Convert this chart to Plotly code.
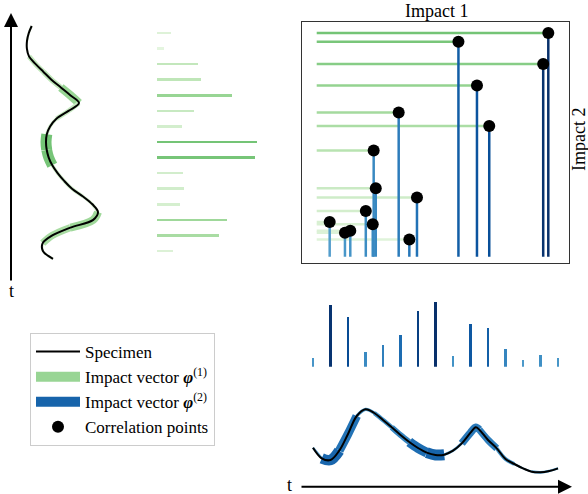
import plotly.graph_objects as go
import plotly.colors as pc

W, H = 588, 494

# ---- data ----
sample_idx = list(range(15))
phi1 = [0.14, 0.07, 0.41, 0.44, 0.75, 0.37, 0.25, 1.0, 0.98, 0.26, 0.27, 0.23, 0.70, 0.62, 0.16]
phi2 = [0.135, 0.965, 0.77, 0.23, 0.33, 0.49, 0.87, 1.0, 0.17, 0.66, 0.60, 0.28, 0.10, 0.18, 0.13]

# specimen 1 (vertical, time runs upward; index 0 at top)
spec1_t = [-0.45, 0, 0.5, 1, 1.5, 2, 2.5, 3, 3.5, 4, 4.5, 5, 5.5, 6, 6.5, 7, 7.5,
           8, 8.5, 9, 9.5, 10, 10.5, 11, 11.5, 12, 12.5, 13, 13.5, 14, 14.5]
spec1_s = [1.17, 0.88, 0.70, 0.69, 0.90, 1.57, 2.35, 3.14, 4.09, 5.03, 5.90, 4.85, 3.64,
           3.01, 2.68, 2.60, 2.67, 2.87, 3.23, 3.76, 4.42, 5.20, 6.30, 7.24, 7.80, 7.32,
           5.04, 3.23, 2.27, 2.29, 3.30]

# specimen 2 (horizontal)
spec2_t = [0, 0.5, 1, 1.5, 2, 2.5, 3, 3.5, 4, 4.5, 5, 5.5, 6, 6.5, 7, 7.5, 8, 8.5, 9,
           9.3, 9.5, 10, 10.5, 11, 11.5, 12, 12.5, 13, 13.5, 14]
spec2_s = [0.87, 0.55, 0.50, 0.78, 1.28, 1.82, 2.02, 1.91, 1.70, 1.48, 1.25, 1.04, 0.86,
           0.72, 0.65, 0.66, 0.78, 1.00, 1.32, 1.48, 1.41, 1.10, 0.85, 0.53, 0.38, 0.25,
           0.15, 0.13, 0.17, 0.25]

# correlation points (Impact 1 vs Impact 2 panel)
corr_x = [1.0, 0.612, 0.978, 0.692, 0.354, 0.745, 0.246, 0.255, 0.433, 0.212, 0.056, 0.242, 0.122, 0.145, 0.400]
corr_y = [1.0, 0.961, 0.861, 0.765, 0.645, 0.584, 0.475, 0.306, 0.265, 0.204, 0.155, 0.145, 0.107, 0.116, 0.077]

GREENS = pc.sequential.Greens
BLUES = pc.sequential.Blues
FONT = "Liberation Serif"


def cmap(seq, v):
    return pc.sample_colorscale(seq, [max(0.0, min(1.0, v))])[0]


def dx(a, b):
    return [a / W, b / W]


def dy(top, bottom):
    return [1 - bottom / H, 1 - top / H]


fig = go.Figure()

# ---- left specimen with green impact bands ----
for k, v in enumerate(phi1):
    sel = [i for i, t in enumerate(spec1_t) if k - 0.5 - 1e-9 <= t <= k + 0.5 + 1e-9]
    fig.add_trace(go.Scatter(
        x=[spec1_s[i] for i in sel], y=[spec1_t[i] for i in sel],
        mode="lines", line=dict(color=cmap(GREENS, 0.1 + 0.4 * v), width=1 + 10 * v, shape="spline"),
        xaxis="x", yaxis="y", showlegend=False, hoverinfo="skip"))
fig.add_trace(go.Scatter(x=spec1_s, y=spec1_t, mode="lines",
                         line=dict(color="black", width=2, shape="spline"),
                         xaxis="x", yaxis="y", showlegend=False))

# ---- middle: impact vector 1 bars ----
fig.add_trace(go.Bar(x=phi1, y=sample_idx, orientation="h", width=0.16,
                     marker=dict(color=[cmap(GREENS, 0.1 + 0.4 * v) for v in phi1], line=dict(width=0)),
                     xaxis="x2", yaxis="y", showlegend=False))

# ---- correlation panel ----
for xv, yv in zip(corr_x, corr_y):
    fig.add_trace(go.Scatter(x=[0, xv], y=[yv, yv], mode="lines",
                             line=dict(color=cmap(GREENS, 0.12 + 0.38 * yv), width=2.5),
                             xaxis="x3", yaxis="y3", showlegend=False, hoverinfo="skip"))
for xv, yv in zip(corr_x, corr_y):
    fig.add_trace(go.Scatter(x=[xv, xv], y=[0, yv], mode="lines",
                             line=dict(color=cmap(BLUES, 0.55 + 0.45 * xv), width=2.5),
                             xaxis="x3", yaxis="y3", showlegend=False, hoverinfo="skip"))
fig.add_trace(go.Scatter(x=corr_x, y=corr_y, mode="markers",
                         marker=dict(color="black", size=12),
                         xaxis="x3", yaxis="y3", showlegend=False))

# ---- bottom: impact vector 2 bars ----
fig.add_trace(go.Bar(x=sample_idx, y=phi2, width=0.14,
                     marker=dict(color=[cmap(BLUES, 0.55 + 0.45 * v) for v in phi2], line=dict(width=0)),
                     xaxis="x4", yaxis="y4", showlegend=False))

# ---- bottom specimen with blue impact bands ----
for k, v in enumerate(phi2):
    sel = [i for i, t in enumerate(spec2_t) if k - 0.5 - 1e-9 <= t <= k + 0.5 + 1e-9]
    fig.add_trace(go.Scatter(
        x=[spec2_t[i] for i in sel], y=[spec2_s[i] for i in sel],
        mode="lines", line=dict(color=cmap(BLUES, 0.55 + 0.25 * v), width=1 + 10 * v, shape="spline"),
        xaxis="x4", yaxis="y5", showlegend=False, hoverinfo="skip"))
fig.add_trace(go.Scatter(x=spec2_t, y=spec2_s, mode="lines",
                         line=dict(color="black", width=2, shape="spline"),
                         xaxis="x4", yaxis="y5", showlegend=False))

# ---- legend entries ----
fig.add_trace(go.Scatter(x=[None], y=[None], mode="lines", name="Specimen",
                         line=dict(color="black", width=2), xaxis="x", yaxis="y"))
fig.add_trace(go.Scatter(x=[None], y=[None], mode="lines",
                         name="Impact vector <b><i>φ</i></b><sup>(1)</sup>",
                         line=dict(color="#98d594", width=10), xaxis="x", yaxis="y"))
fig.add_trace(go.Scatter(x=[None], y=[None], mode="lines",
                         name="Impact vector <b><i>φ</i></b><sup>(2)</sup>",
                         line=dict(color="#1764ab", width=10), xaxis="x", yaxis="y"))
fig.add_trace(go.Scatter(x=[None], y=[None], mode="markers", name="Correlation points",
                         marker=dict(color="black", size=12), xaxis="x", yaxis="y"))

hidden = dict(visible=False, fixedrange=True)
frame = dict(visible=True, showline=True, mirror=True, linecolor="#333333", linewidth=1.3,
             showgrid=False, zeroline=False, showticklabels=False, ticks="", fixedrange=True)

fig.update_layout(
    width=W, height=H, margin=dict(l=0, r=0, t=0, b=0),
    paper_bgcolor="white", plot_bgcolor="white",
    font=dict(family=FONT, size=17, color="black"),
    bargap=0,
    xaxis=dict(domain=dx(15, 110), range=[-0.5, 9.0], anchor="y", **hidden),
    yaxis=dict(domain=dy(20, 265), range=[14.9, -0.835], anchor="x", **hidden),
    xaxis2=dict(domain=dx(157, 267), range=[0, 1.1], anchor="y", **hidden),
    xaxis3=dict(domain=dx(301.7, 569), range=[-0.0648, 1.0894], anchor="y3", **frame),
    yaxis3=dict(domain=dy(21.7, 262.7), range=[-0.0268, 1.0505], anchor="x3", **frame),
    xaxis4=dict(domain=dx(300, 575), range=[-0.743, 14.97], anchor="y4", **hidden),
    yaxis4=dict(domain=dy(295, 366.7), range=[0, 1.115], anchor="x4", **hidden),
    yaxis5=dict(domain=dy(400, 480), range=[-0.1, 2.3], anchor="x4", **hidden),
    legend=dict(x=30 / W, y=1 - 333 / H, xanchor="left", yanchor="top",
                bgcolor="white", bordercolor="#cccccc", borderwidth=1,
                font=dict(family=FONT, size=17), itemwidth=44),
    annotations=[
        dict(x=11 / W, y=1 - 13 / H, xref="paper", yref="paper", text="", showarrow=True,
             ax=0, ay=269, arrowhead=2, arrowsize=1.4, arrowwidth=2, arrowcolor="black", standoff=0),
        dict(x=572 / W, y=1 - 486.7 / H, xref="paper", yref="paper", text="", showarrow=True,
             ax=-272, ay=0, arrowhead=2, arrowsize=1.4, arrowwidth=2, arrowcolor="black", standoff=0),
        dict(x=11 / W, y=1 - 291 / H, xref="paper", yref="paper", text="t", showarrow=False,
             font=dict(size=18), xanchor="center", yanchor="middle"),
        dict(x=289 / W, y=1 - 485 / H, xref="paper", yref="paper", text="t", showarrow=False,
             font=dict(size=18), xanchor="center", yanchor="middle"),
        dict(x=436 / W, y=1 - 11 / H, xref="paper", yref="paper", text="Impact 1", showarrow=False,
             font=dict(size=18), xanchor="center", yanchor="middle"),
        dict(x=579 / W, y=1 - 140 / H, xref="paper", yref="paper", text="Impact 2", showarrow=False,
             textangle=-90, font=dict(size=18), xanchor="center", yanchor="middle"),
    ],
)

fig.write_html("out.html", config={"displayModeBar": False},
               post_script="document.body.style.margin='0';document.body.style.overflow='hidden';")
